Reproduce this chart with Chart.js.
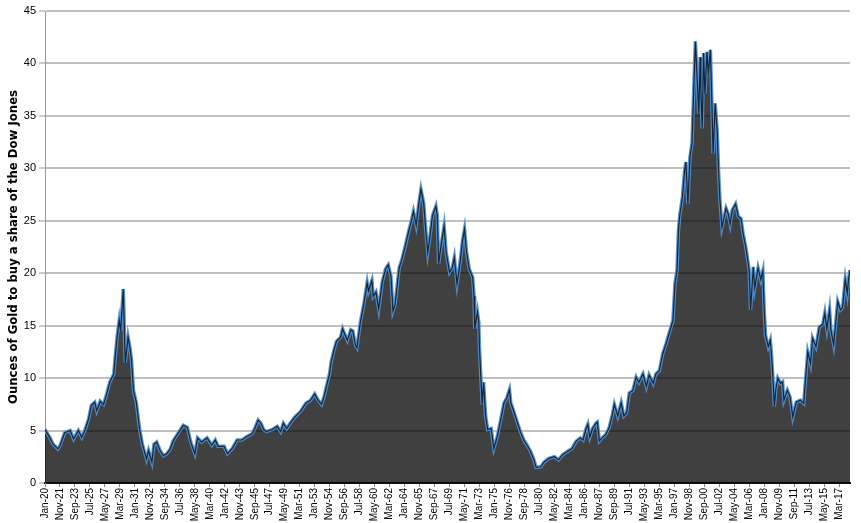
<!DOCTYPE html>
<html>
<head>
<meta charset="utf-8">
<script src="https://cdn.jsdelivr.net/npm/chart.js@4.4.1/dist/chart.umd.min.js"></script>
<style>
  html, body { margin: 0; padding: 0; background: #fff; }
  #wrap { width: 861px; height: 523px; }
</style>
</head>
<body>
<div id="wrap"><canvas id="chart" width="861" height="523"></canvas></div>
<script>
// ounces of gold needed to buy one "share" of the Dow

const dates = [
  "1920-01","1920-08","1921-01","1921-08","1921-11","1922-06","1923-02","1923-07","1924-02","1924-07",
  "1924-12","1925-05","1925-09","1926-02","1926-05","1926-10","1927-03","1927-08","1927-12","1928-06",
  "1928-08","1928-11","1929-02","1929-04","1929-08","1929-10","1929-11","1930-03","1930-06","1930-08",
  "1930-11","1931-03","1931-08","1931-12","1932-06","1932-09","1933-02","1933-05","1933-09","1934-02",
  "1934-07","1934-12","1935-05","1935-09","1936-05","1936-12","1937-06","1937-11","1938-05","1938-09",
  "1939-03","1939-11","1940-06","1940-11","1941-03","1941-12","1942-05","1942-12","1943-07","1944-02",
  "1944-09","1945-05","1945-09","1946-02","1946-06","1946-10","1947-02","1947-11","1948-06","1948-11",
  "1949-03","1949-08","1950-01","1950-08","1951-04","1951-12","1952-07","1953-01","1953-06","1953-11",
  "1954-03","1954-07","1954-11","1955-01","1955-05","1955-09","1956-03","1956-06","1956-09","1957-01",
  "1957-06","1957-09","1958-01","1958-03","1958-08","1959-01","1959-06","1959-08","1960-01","1960-03",
  "1960-07","1960-11","1961-04","1961-09","1962-01","1962-05","1962-08","1962-11","1963-05","1963-09",
  "1964-02","1964-07","1964-11","1965-02","1965-06","1965-10","1966-01","1966-05","1966-08","1966-11",
  "1967-01","1967-06","1967-11","1968-01","1968-03","1968-06","1968-11","1969-02","1969-07","1969-11",
  "1970-02","1970-06","1970-11","1971-02","1971-05","1971-08","1971-12","1972-05","1972-07","1972-08",
  "1972-12","1973-02","1973-03","1973-05","1973-07","1973-09","1973-12","1974-03","1974-08","1974-12",
  "1975-05","1975-10","1976-03","1976-07","1976-11","1977-01","1977-06","1977-11","1978-03","1978-08",
  "1979-01","1979-06","1979-11","1980-02","1980-09","1981-02","1981-09","1982-05","1982-11","1983-05",
  "1983-12","1984-07","1985-01","1985-07","1985-11","1986-03","1986-06","1986-09","1987-01","1987-06",
  "1987-08","1987-11","1988-03","1988-08","1989-01","1989-06","1989-09","1990-02","1990-07","1990-11",
  "1991-03","1991-07","1991-12","1992-05","1992-09","1993-03","1993-08","1993-12","1994-06","1994-10",
  "1995-03","1995-08","1996-01","1996-06","1996-11","1997-02","1997-05","1997-07","1997-09","1998-01",
  "1998-04","1998-06","1998-09","1998-12","1999-03","1999-06","1999-08","1999-10","2000-01","2000-03",
  "2000-04","2000-06","2000-08","2000-10","2001-01","2001-03","2001-06","2001-08","2001-10","2002-01",
  "2002-04","2002-06","2002-08","2002-11","2003-05","2003-08","2003-11","2004-02","2004-07","2004-11",
  "2005-03","2005-06","2005-10","2006-03","2006-05","2006-09","2006-11","2007-04","2007-08","2007-11",
  "2008-01","2008-03","2008-07","2008-10","2008-12","2009-02","2009-04","2009-06","2009-09","2010-01",
  "2010-04","2010-06","2010-11","2011-03","2011-07","2011-12","2012-06","2012-11","2013-02","2013-05",
  "2013-09","2013-12","2014-05","2014-10","2015-03","2015-06","2015-09","2016-01","2016-03","2016-07",
  "2017-01","2017-05","2017-08","2017-12","2018-03","2018-05","2018-07"
];

const ounces = [
  5.1, 4.35, 3.7, 3.25, 3.55, 4.8, 5.0, 4.2, 5.0, 4.35,
  5.1, 6.1, 7.4, 7.7, 6.9, 7.8, 7.5, 8.6, 9.6, 10.4,
  12.0, 14.0, 15.5, 14.5, 18.5, 13.4, 11.5, 13.9, 12.8, 11.7,
  8.8, 7.7, 5.1, 3.7, 2.3, 3.1, 2.0, 3.7, 3.9, 3.1,
  2.6, 2.8, 3.25, 4.0, 4.8, 5.5, 5.3, 3.9, 2.8, 4.3,
  3.9, 4.3, 3.6, 4.1, 3.5, 3.5, 2.8, 3.3, 4.1, 4.1,
  4.4, 4.7, 5.2, 6.0, 5.7, 5.1, 4.9, 5.1, 5.4, 4.9,
  5.7, 5.2, 5.7, 6.3, 6.8, 7.6, 7.9, 8.5, 7.9, 7.5,
  8.3, 9.4, 10.5, 11.5, 12.6, 13.5, 13.9, 14.7, 14.2, 13.6,
  14.6, 14.5, 13.1, 12.9, 15.3, 17.0, 19.1, 18.3, 19.3, 17.8,
  18.2, 16.6, 19.1, 20.4, 20.8, 19.7, 16.4, 17.0, 20.5, 21.3,
  22.6, 24.0, 25.0, 25.9, 24.6, 26.7, 28.0, 26.7, 24.2, 22.0,
  22.9, 25.5, 26.4, 25.5, 20.9, 22.4, 24.5, 22.0, 20.1, 20.5,
  21.5, 19.0, 21.3, 23.1, 24.2, 22.0, 20.4, 19.6, 17.8, 14.7,
  16.3, 15.3, 12.8, 10.1, 7.5, 9.6, 6.4, 5.1, 5.2, 3.3,
  4.4, 6.0, 7.65, 8.1, 8.9, 7.65, 6.7, 5.7, 4.9, 4.1,
  3.6, 3.0, 2.2, 1.5, 1.55, 2.0, 2.35, 2.5, 2.2, 2.7,
  3.0, 3.3, 4.0, 4.3, 4.1, 5.1, 5.6, 4.4, 5.2, 5.7,
  5.8, 4.0, 4.3, 4.6, 5.2, 6.5, 7.5, 6.4, 7.65, 6.4,
  6.7, 8.6, 8.8, 10.1, 9.6, 10.4, 9.2, 10.3, 9.5, 10.4,
  10.7, 12.3, 13.3, 14.4, 15.5, 19.0, 20.3, 24.0, 25.5, 27.3,
  29.7, 30.6, 26.6, 31.1, 32.4, 38.4, 42.1, 39.4, 35.2, 40.6,
  37.5, 33.8, 41.0, 37.1, 41.1, 39.0, 41.3, 36.8, 31.4, 36.2,
  33.6, 29.8, 27.0, 24.4, 26.2, 25.7, 24.7, 26.0, 26.6, 25.4,
  25.2, 23.8, 22.5, 20.3, 16.5, 20.6, 18.6, 20.5, 19.4, 20.2,
  16.5, 14.1, 13.0, 13.6, 12.0, 9.8, 7.3, 8.9, 10.0, 9.5,
  9.65, 7.9, 8.85, 8.2, 6.3, 7.7, 7.9, 7.6, 10.1, 12.5,
  11.4, 13.8, 13.0, 14.9, 15.1, 16.2, 14.7, 16.5, 14.6, 13.2,
  17.3, 16.5, 16.7, 19.4, 18.1, 19.5, 20.3
];

const MONTHS = ["Jan","Feb","Mar","Apr","May","Jun","Jul","Aug","Sep","Oct","Nov","Dec"];
const START_YEAR = 1920;
const LAST_MONTH = "2018-07";
const TICK_EVERY = 22; // months between axis labels
const yTitle = "Ounces of Gold to buy a share of the Dow Jones";

function monthIndex(s){
  const [y, m] = s.split("-").map(Number);
  return (y - START_YEAR) * 12 + (m - 1);
}

function monthLabel(v){
  const y = START_YEAR + Math.floor(v / 12);
  return MONTHS[v % 12] + "-" + String(y % 100).padStart(2, "0");
}

const points = dates.map((d, i) => ({ x: monthIndex(d), y: ounces[i] }));

new Chart(document.getElementById("chart"), {
  type: "line",
  data: {
    datasets: [
      {
        // dark core of the line
        data: points,
        borderColor: "#14263b",
        borderWidth: 1.2,
        fill: false,
        pointRadius: 0,
        tension: 0
      },
      {
        data: points,
        borderColor: "rgba(80,142,206,0.95)",
        borderWidth: 3.5,
        backgroundColor: "rgba(0,0,0,0.75)",
        fill: "origin",
        pointRadius: 0,
        tension: 0
      }
    ]
  },
  options: {
    responsive: false,
    animation: false,
    devicePixelRatio: 1,
    layout: { padding: { top: 11, right: 11, left: 0, bottom: 0 } },
    plugins: { legend: { display: false }, tooltip: { enabled: false } },
    scales: {
      x: {
        type: "linear",
        min: 0,
        max: monthIndex(LAST_MONTH),
        z: 1,
        afterFit: s => { s.height = 40; },
        grid: { color: "rgba(255,255,255,0.3)", lineWidth: 1, tickColor: "#888", tickLength: 4 },
        border: { color: "#111", width: 2 },
        ticks: {
          stepSize: TICK_EVERY,
          includeBounds: false,
          autoSkip: false,
          maxRotation: 90,
          minRotation: 90,
          padding: 1,
          color: "#000",
          font: { family: "Liberation Sans", size: 10 },
          callback: v => monthLabel(v)
        }
      },
      y: {
        min: 0,
        max: 45,
        afterFit: s => { s.width = 45; },
        grid: { color: "#c0c0c0", lineWidth: 2, tickLength: 6, tickColor: "#999", tickWidth: 1 },
        border: { color: "#999", width: 1 },
        ticks: {
          stepSize: 5,
          padding: 3,
          color: "#000",
          font: { family: "Liberation Sans", size: 11 }
        },
        title: {
          display: true,
          text: yTitle,
          color: "#000",
          font: { family: "'DejaVu Sans Condensed', 'Liberation Sans'", weight: "bold", size: 13 },
          padding: { top: 6, bottom: 0 }
        }
      }
    }
  }
});
</script>
</body>
</html>
